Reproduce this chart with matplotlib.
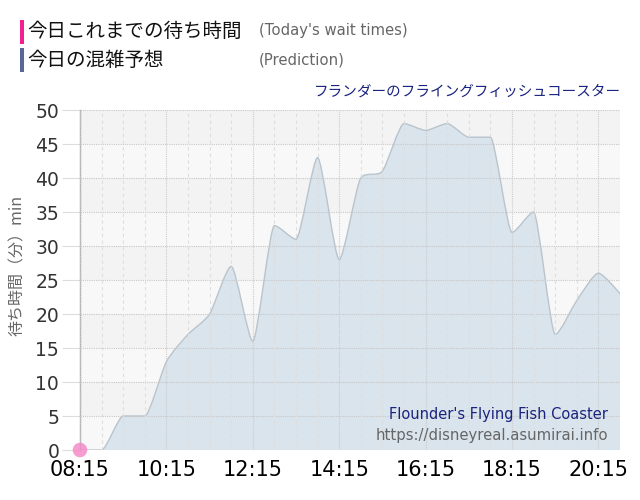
import numpy as np
import matplotlib
matplotlib.use('Agg')
import matplotlib.pyplot as plt
from matplotlib.path import Path
from matplotlib.patches import PathPatch, Rectangle

plt.rcParams['font.family'] = ['DejaVu Sans', 'Noto Sans CJK JP']
JP = ['Noto Sans CJK JP', 'DejaVu Sans']

# data: predicted wait (min) every 30 min from 08:15
start_min = 8 * 60 + 15
times = start_min + 30 * np.arange(26)
predicted = [0, 0, 5, 5, 13, 17, 20, 27, 16, 33, 31, 43, 28,
             40, 41, 48, 47, 48, 46, 46, 32, 35, 17, 22, 26, 23]
actual_times = [start_min]
actual_wait = [0]
tick_labels = ['08:15', '10:15', '12:15', '14:15', '16:15', '18:15', '20:15']
tick_pos = start_min + 120 * np.arange(len(tick_labels))


def spline_path(xs, ys, smoothing=1.5):
    # highcharts style areaspline control points
    xs = np.asarray(xs, float)
    ys = np.asarray(ys, float)
    n = len(xs)
    left = [(xs[0], ys[0])]
    right = [(xs[0], ys[0])]
    denom = smoothing + 1
    for i in range(1, n - 1):
        px, py = xs[i], ys[i]
        lx, ly = xs[i - 1], ys[i - 1]
        nx, ny = xs[i + 1], ys[i + 1]
        lcx = (smoothing * px + lx) / denom
        lcy = (smoothing * py + ly) / denom
        rcx = (smoothing * px + nx) / denom
        rcy = (smoothing * py + ny) / denom
        corr = (rcy - lcy) * (rcx - px) / (rcx - lcx) + py - rcy
        lcy += corr
        rcy += corr
        if lcy > ly and lcy > py:
            lcy = max(ly, py); rcy = 2 * py - lcy
        elif lcy < ly and lcy < py:
            lcy = min(ly, py); rcy = 2 * py - lcy
        if rcy > ny and rcy > py:
            rcy = max(ny, py); lcy = 2 * py - rcy
        elif rcy < ny and rcy < py:
            rcy = min(ny, py); lcy = 2 * py - rcy
        left.append((lcx, lcy))
        right.append((rcx, rcy))
    left.append((xs[-1], ys[-1]))
    right.append((xs[-1], ys[-1]))
    verts = [(xs[0], ys[0])]
    codes = [Path.MOVETO]
    for i in range(1, n):
        verts += [right[i - 1], left[i], (xs[i], ys[i])]
        codes += [Path.CURVE4] * 3
    return verts, codes


fig = plt.figure(figsize=(6.4, 5.0), dpi=100)
ax = fig.add_axes([0.125, 0.1, 0.84375, 0.68])
ax.set_xlim(start_min, times[-1])
ax.set_ylim(0, 50)

# alternating background bands
for k in range(10):
    col = '#f8f8f8' if k % 2 == 0 else '#f3f3f3'
    ax.add_patch(Rectangle((start_min, k * 5), times[-1] - start_min, 5,
                           facecolor=col, edgecolor='none', zorder=0))

verts, codes = spline_path(times, predicted, smoothing=3.5)
line_path = Path(verts, codes)
fill_verts = verts + [(times[-1], 0), (times[0], 0), (times[0], predicted[0])]
fill_codes = codes + [Path.LINETO, Path.LINETO, Path.CLOSEPOLY]
ax.add_patch(PathPatch(Path(fill_verts, fill_codes), facecolor='#dae4ec',
                       edgecolor='none', zorder=1))
ax.add_patch(PathPatch(line_path, facecolor='none', edgecolor='#b9c4cc',
                       lw=1.0, zorder=2))

# grid
for y in range(5, 51, 5):
    ax.axhline(y, color='#c8c8c8', lw=0.8, ls=(0, (1, 1)), zorder=3)
for t in times:
    if (t - start_min) % 120 == 0:
        ax.axvline(t, color='#cccccc', lw=0.8, ls=(0, (1, 1)), zorder=3)
    else:
        ax.axvline(t, color='#dedede', lw=0.8, ls=(0, (3, 3)), zorder=3)

ax.scatter(actual_times, actual_wait, s=110, color='#f48cc8', alpha=0.85,
           zorder=5, clip_on=False, edgecolors='none')

for s in ['top', 'right', 'bottom']:
    ax.spines[s].set_visible(False)
ax.spines['left'].set_color('#a8a8b0')
ax.spines['left'].set_linewidth(1.0)

ax.set_yticks(range(0, 51, 5))
ax.set_xticks(tick_pos)
ax.set_xticklabels(tick_labels)
ax.tick_params(axis='y', length=13, color='#dddddd', labelsize=13.5,
               labelcolor='#333333', pad=2)
ax.tick_params(axis='x', length=0, labelsize=15, labelcolor='#000000', pad=7)

fig.text(0.028, 0.47, '待ち時間（分）min', rotation=90, ha='center', va='center',
         fontsize=11.5, color='#666666', family=JP)

# legend / header
fig.patches.append(Rectangle((0.031, 0.912), 0.006, 0.048, transform=fig.transFigure,
                             facecolor='#f02090', edgecolor='none'))
fig.patches.append(Rectangle((0.031, 0.856), 0.006, 0.048, transform=fig.transFigure,
                             facecolor='#5a6898', edgecolor='none'))
fig.text(0.042, 0.937, '今日これまでの待ち時間', fontsize=14, va='center',
         color='#111111', family=JP)
fig.text(0.042, 0.879, '今日の混雑予想', fontsize=14, va='center',
         color='#111111', family=JP)
fig.text(0.405, 0.938, "(Today's wait times)", fontsize=10.7, va='center', color='#666666')
fig.text(0.405, 0.880, '(Prediction)', fontsize=10.7, va='center', color='#666666')
fig.text(0.97, 0.816, 'フランダーのフライングフィッシュコースター', fontsize=10.5,
         ha='right', va='center', color='#1a237e', family=JP)

ax.text(0.978, 0.105, "Flounder's Flying Fish Coaster", transform=ax.transAxes,
        ha='right', va='center', fontsize=10.5, color='#1a237e', zorder=6)
ax.text(0.978, 0.044, 'https://disneyreal.asumirai.info', transform=ax.transAxes,
        ha='right', va='center', fontsize=10.7, color='#666666', zorder=6)

fig.savefig('out.png', dpi=100)
